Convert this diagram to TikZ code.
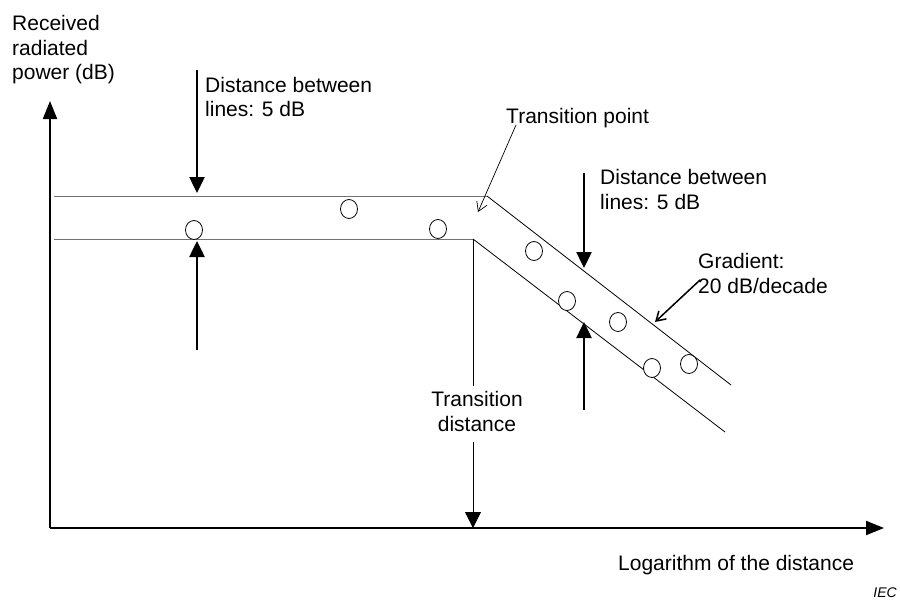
\documentclass[tikz,border=0pt]{standalone}
\usepackage{fontspec}
\setmainfont{Liberation Sans}
\usetikzlibrary{arrows.meta,positioning,shapes.geometric}
\definecolor{bGray}{gray}{0.45}
\tikzset{
    circ/.style={ellipse, draw, inner sep=0pt, minimum width=17pt, minimum height=19pt, line width=0.8pt, fill=white},
    lbl/.style={inner sep=0pt, align=left, font=\fontsize{21}{24.5}\selectfont},
    axis/.style={line width=2pt, -{Triangle[length=18pt,width=14pt]}},
    bigarr/.style={line width=2.5pt, -{Triangle[length=16pt,width=15pt]}},
    band/.style={line width=1pt, bGray},
    slope/.style={line width=0.8pt},
    thinarr/.style={line width=0.7pt, -{Straight Barb[length=9pt,width=11pt]}}
}
\begin{document}
\begin{tikzpicture}[x=1pt,y=-1pt]
\useasboundingbox (0,0) rectangle (900,602);
% axes
\coordinate (O) at (50,528);
\coordinate (ytip) at (50,101);
\coordinate (xtip) at (884,528);
\draw[axis] (O) -- (ytip);
\draw[axis] (O) -- (xtip);
% the two bounding lines
\coordinate (hiA) at (54,196);
\coordinate (hiB) at (487,196);
\coordinate (hiC) at (731,385);
\coordinate (loA) at (54,239);
\coordinate (loB) at (473,239);
\coordinate (loC) at (725,432);
\draw[band] (hiA) -- (hiB);
\draw[band] (loA) -- (loB);
\draw[slope] (hiB) -- (hiC);
\draw[slope] (loB) -- (loC);
% labels (base = last line)
\node[lbl,anchor=base west] (ylabel) at (12,80) {Received\\radiated\\power (dB)};
\node[lbl,anchor=base west] (xlabel) at (618,570) {Logarithm of the distance};
\node[lbl,anchor=base west] (sepL) at (205,117) {Distance between\\lines: 5 dB};
\node[lbl,anchor=base west] (sepR) at (600,209) {Distance between\\lines: 5 dB};
\node[lbl,anchor=base west] (trpoint) at (506,123) {Transition point};
\node[lbl,anchor=base west] (grad) at (698,293) {Gradient:\\20 dB/decade};
\node[lbl,align=center,anchor=base] (trdist) at (477,431) {Transition\\distance};
\node[inner sep=0pt,anchor=base east,font=\fontsize{14}{16}\itshape] (iec) at (897,597) {IEC};
% transition distance marker
\draw[slope,shorten >=5pt] (loB) -- (loB |- trdist.north);
\draw[slope,shorten <=11pt,-{Triangle[length=16pt,width=16pt]}] (loB |- trdist.south) -- (loB |- O);
% 5 dB arrows
\coordinate (sLtop) at (197,70);
\coordinate (sLbot) at (197,350);
\coordinate (sRtop) at (584,173);
\coordinate (tRtop) at (584,268);
\coordinate (sRbot) at (584,410);
\coordinate (tRbot) at (584,322);
\draw[bigarr,shorten >=3pt] (sLtop) -- (sLtop |- hiA);
\draw[bigarr,shorten >=2pt] (sLbot) -- (sLbot |- loA);
\draw[bigarr] (sRtop) -- (tRtop);
\draw[bigarr] (sRbot) -- (tRbot);
% pointer arrows
\coordinate (tpTip) at (478,212);
\coordinate (grTip) at (655,322);
\draw[thinarr] (516,125) coordinate (tpTail) -- (tpTip);
\draw[thinarr,line width=1.5pt] (700,280) coordinate (grTail) -- (grTip);
% measured points
\foreach \px/\py [count=\i] in {194/230, 349/209, 438/229, 534/251, 567/301, 618/322, 652/368, 689/364}
    \node[circ] (pt\i) at (\px,\py) {};
\end{tikzpicture}
\end{document}
